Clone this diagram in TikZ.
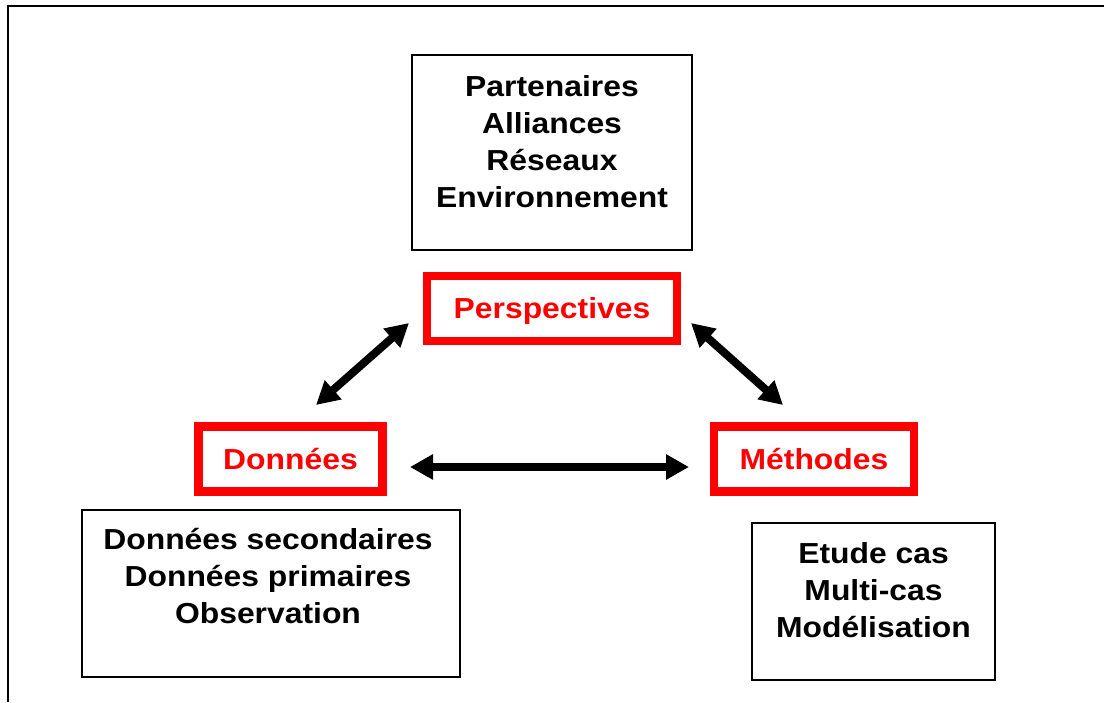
\documentclass[tikz,border=0pt]{standalone}
\usepackage{fontspec}
\setmainfont{Liberation Sans}[FakeStretch=1.1]
\usetikzlibrary{arrows.meta}

\begin{document}
\begin{tikzpicture}[line width=1.4pt,
    txt/.style={font=\fontsize{20.6}{26.3}\selectfont\bfseries, align=center, inner sep=0pt},
    plainbox/.style={draw=black, line width=1.4pt, inner sep=0pt},
    redbox/.style={draw=red, line width=5.7pt, text=red, font=\fontsize{20.6}{26.3}\selectfont\bfseries,
        inner sep=0pt, text height=0.52cm, text depth=0pt, minimum height=1.625cm},
    link/.style={line width=0.2cm, {Triangle[length=0.575cm,width=0.6cm]}-{Triangle[length=0.575cm,width=0.6cm]}}]

            \useasboundingbox (0,0) rectangle (27.6,17.55);

            % draw frame
            \draw[line width=1.8pt] (0.195,0) -- (0.195,17.4) -- (27.6,17.4);

            %%%%%%%%
            % top box
            %%%%%%%%

            \node[plainbox, minimum width=7cm, minimum height=4.875cm] (partbox) at (13.8,13.7375) {};
            \node[txt, anchor=north] (parttext) at (13.8,15.675) {Partenaires\\Alliances\\Réseaux\\Environnement};

            %%%%%%%%
            % red boxes
            %%%%%%%%

            \node[redbox, minimum width=6.25cm] (perspectives) at (13.8,9.8375) {Perspectives};
            \node[redbox, minimum width=4.6cm] (donnees) at (7.2625,6.075) {Données};
            \node[redbox, minimum width=5cm] (methodes) at (20.35,6.075) {Méthodes};

            %%%%%%%%
            % bottom boxes
            %%%%%%%%

            \node[plainbox, minimum width=9.45cm, minimum height=4.175cm] (databox) at (6.775,2.7125) {};
            \node[txt, anchor=north] (datatext) at (6.7,4.375) {Données secondaires\\Données primaires\\Observation};

            \node[plainbox, minimum width=6.075cm, minimum height=3.925cm] (methbox) at (21.8375,2.5125) {};
            \node[txt, anchor=north] (methtext) at (21.8375,4.0) {Etude cas\\Multi-cas\\Modélisation};

            %%%%%%%%
            % arrows
            %%%%%%%%

            % arrow ends
            \coordinate (dp1) at (7.9,7.425);
            \coordinate (dp2) at (10.225,9.475);
            \coordinate (pm1) at (17.275,9.475);
            \coordinate (pm2) at (19.575,7.425);
            \coordinate (dm1) at (10.25,5.875);
            \coordinate (dm2) at (17.225,5.875);

            % draw arrows
            \draw[link] (dp1) -- (dp2);
            \draw[link] (pm1) -- (pm2);
            \draw[link] (dm1) -- (dm2);
\end{tikzpicture}
\end{document}
